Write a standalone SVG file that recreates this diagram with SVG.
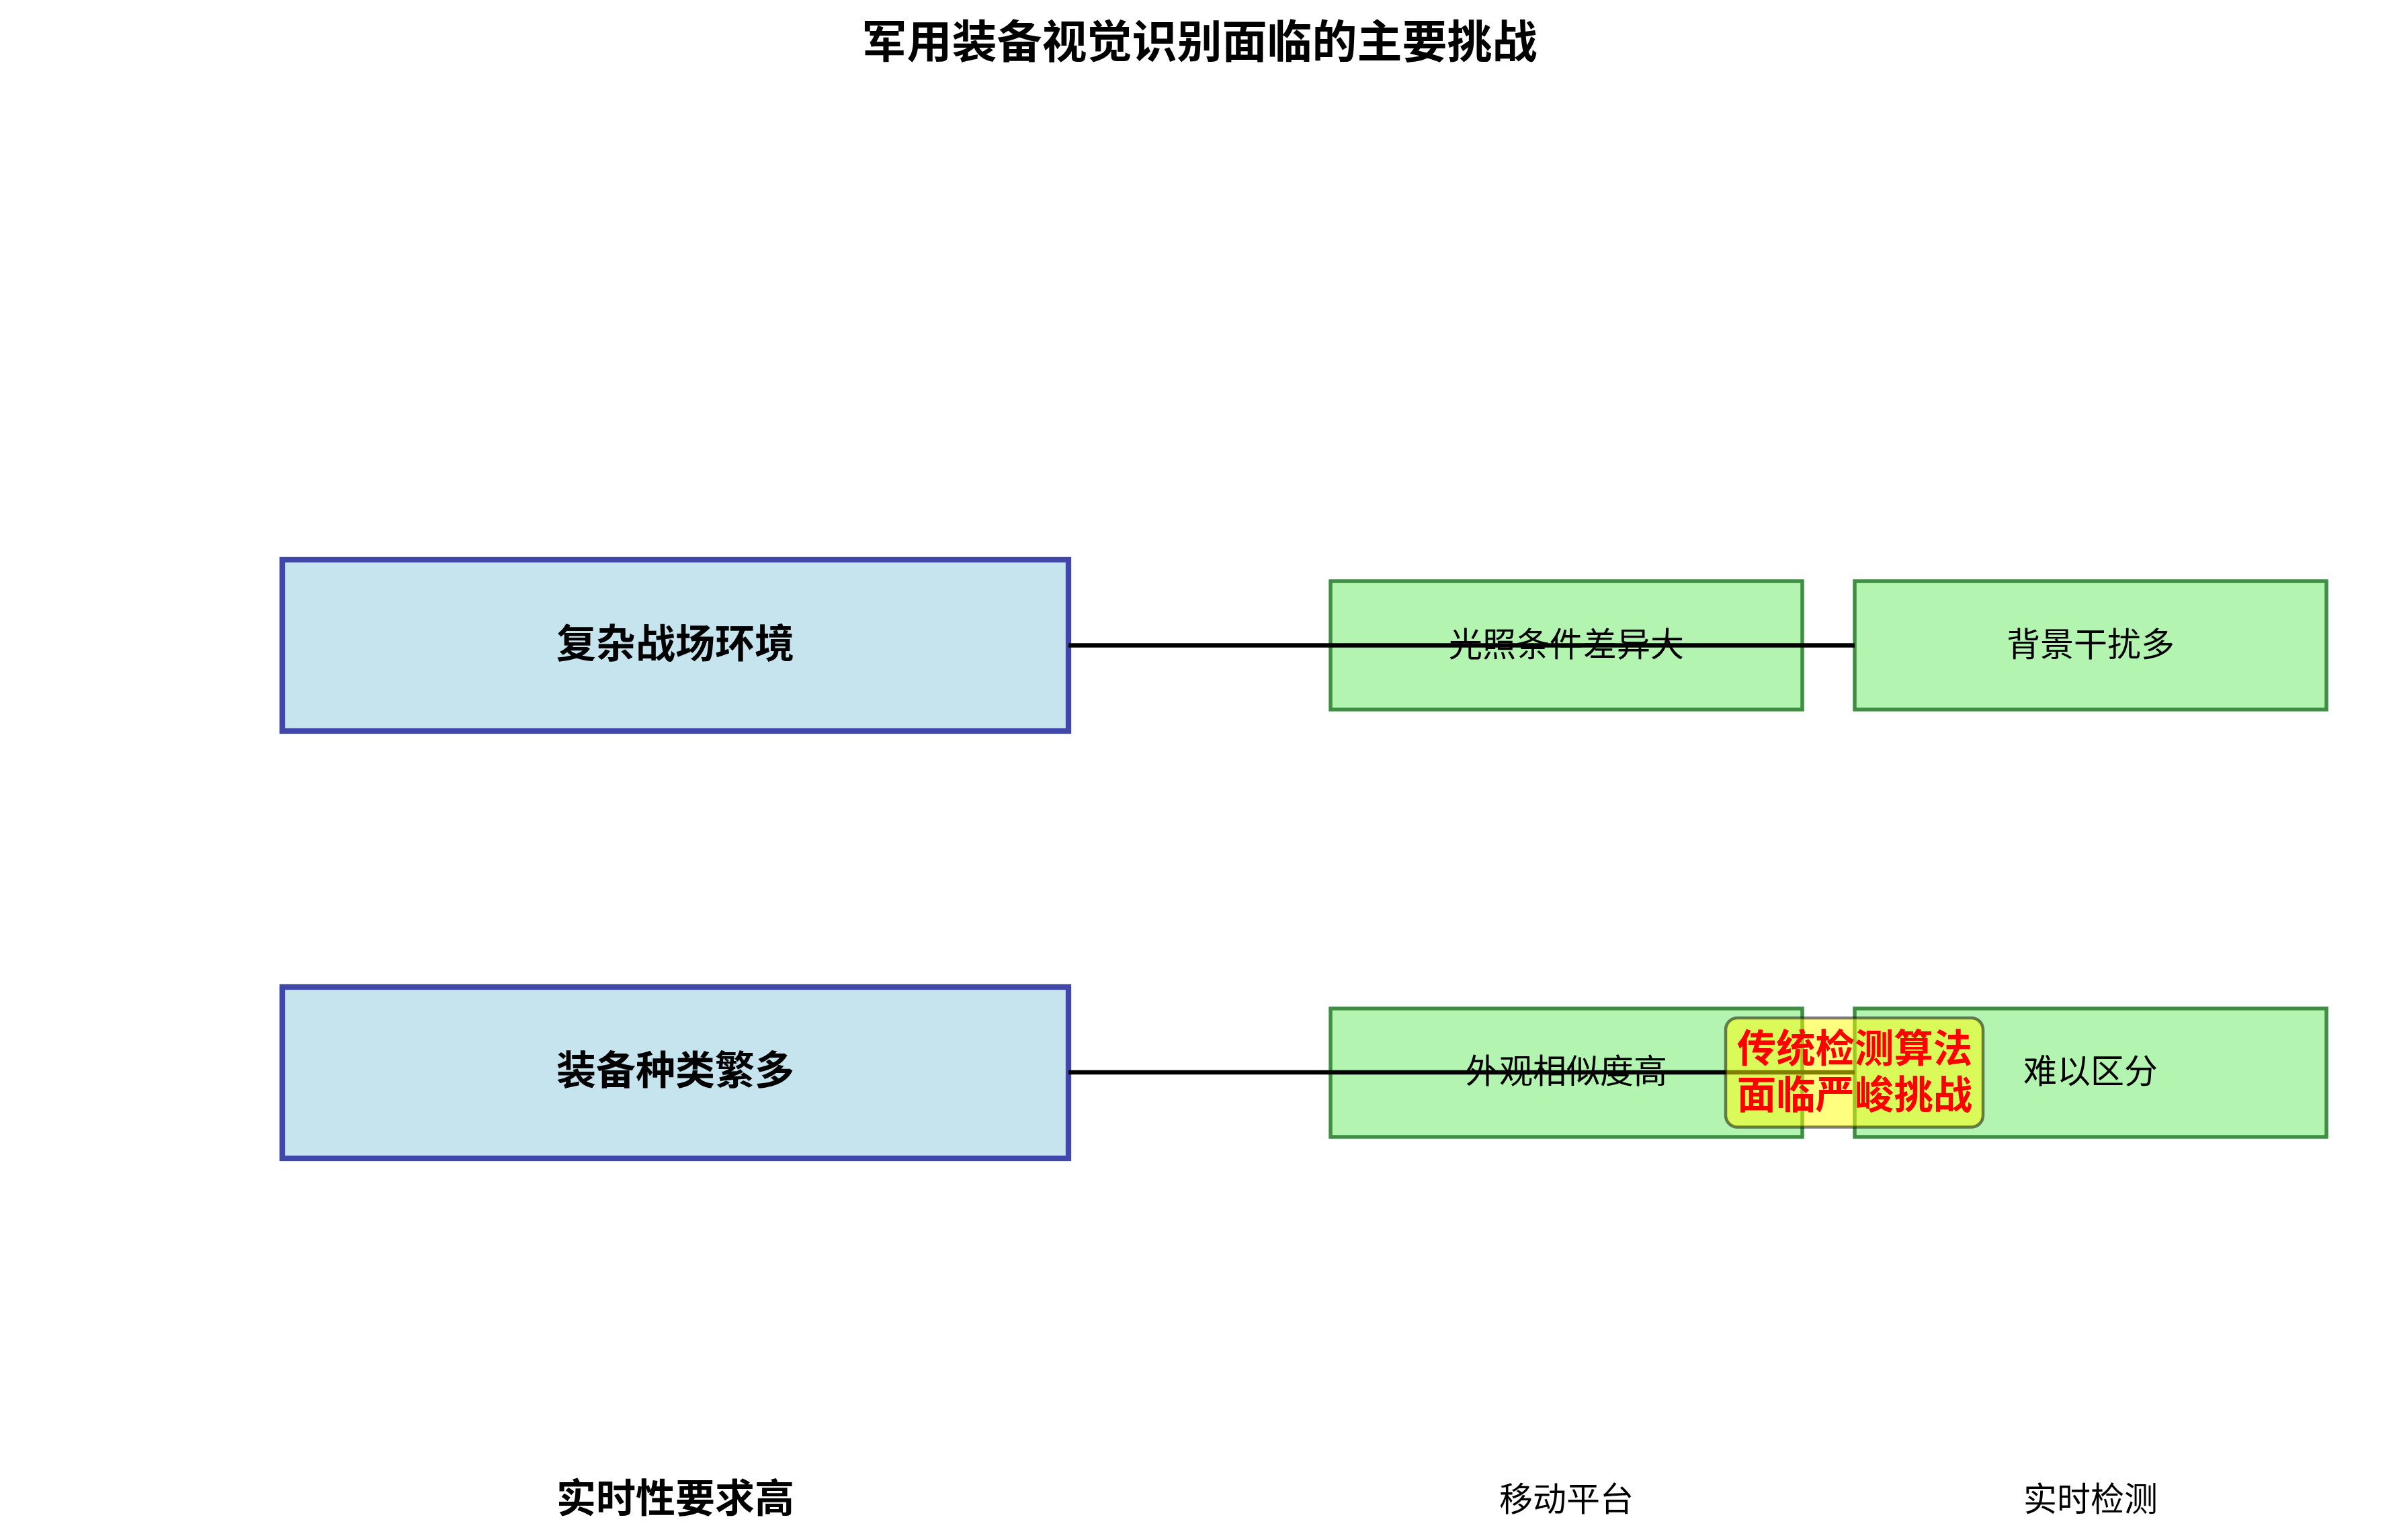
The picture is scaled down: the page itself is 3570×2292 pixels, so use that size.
<svg xmlns="http://www.w3.org/2000/svg" width="3570" height="2292" viewBox="0 0 3570 2292">
  <style>
    text { font-family: "Noto Sans CJK SC", "Liberation Sans", sans-serif; text-anchor: middle; fill: #000; }
    .title { font-size: 67px; font-weight: bold; }
    .main { font-size: 59px; font-weight: bold; }
    .sub { font-size: 50px; }
    .alert { font-size: 58.4px; font-weight: bold; fill: #ff0000; }
    .mainbox { fill: #c6e4ed; stroke: #4047a8; stroke-width: 8.3; }
    .subbox { fill: #b2f4b0; stroke: #3f8f43; stroke-width: 5.5; }
    .conn { stroke: #000; stroke-width: 6.5; fill: none; }
    .alertbox { fill: #ffff00; fill-opacity: 0.5; stroke: #000; stroke-opacity: 0.5; stroke-width: 4.5; }
  </style>
  <rect x="0" y="0" width="3570" height="2292" fill="#ffffff"/>
  <text class="title" x="1785" y="86">军用装备视觉识别面临的主要挑战</text>

  <g id="node-env">
    <rect class="mainbox" x="420" y="833" width="1170" height="255"/>
    <text class="main" x="1005" y="979">复杂战场环境</text>
  </g>
  <g id="node-light">
    <rect class="subbox" x="1980" y="865" width="702" height="191"/>
  </g>
  <g id="node-bg">
    <rect class="subbox" x="2760" y="865" width="702" height="191"/>
  </g>

  <g id="node-types">
    <rect class="mainbox" x="420" y="1469" width="1170" height="255"/>
    <text class="main" x="1005" y="1614">装备种类繁多</text>
  </g>
  <g id="node-similar">
    <rect class="subbox" x="1980" y="1501" width="702" height="191"/>
  </g>
  <g id="node-distinguish">
    <rect class="subbox" x="2760" y="1501" width="702" height="191"/>
  </g>

  <g id="connectors">
    <line class="conn" x1="1590" y1="960.5" x2="2760" y2="960.5"/>
    <line class="conn" x1="1590" y1="1596" x2="2760" y2="1596"/>
  </g>

  <g id="labels">
    <text class="sub" x="2331" y="977">光照条件差异大</text>
    <text class="sub" x="3111" y="977">背景干扰多</text>
    <text class="sub" x="2331" y="1612">外观相似度高</text>
    <text class="sub" x="3111" y="1612">难以区分</text>
  </g>

  <g id="node-realtime">
    <text class="main" x="1005" y="2251">实时性要求高</text>
  </g>
  <g id="node-mobile">
    <text class="sub" x="2331" y="2249">移动平台</text>
  </g>
  <g id="node-detect">
    <text class="sub" x="3111" y="2249">实时检测</text>
  </g>

  <g id="node-alert">
    <rect class="alertbox" x="2568" y="1515" width="383" height="162.5" rx="17.5" ry="17.5"/>
    <text class="alert" x="2760" y="1580.5">传统检测算法</text>
    <text class="alert" x="2760" y="1649.5">面临严峻挑战</text>
  </g>
</svg>
